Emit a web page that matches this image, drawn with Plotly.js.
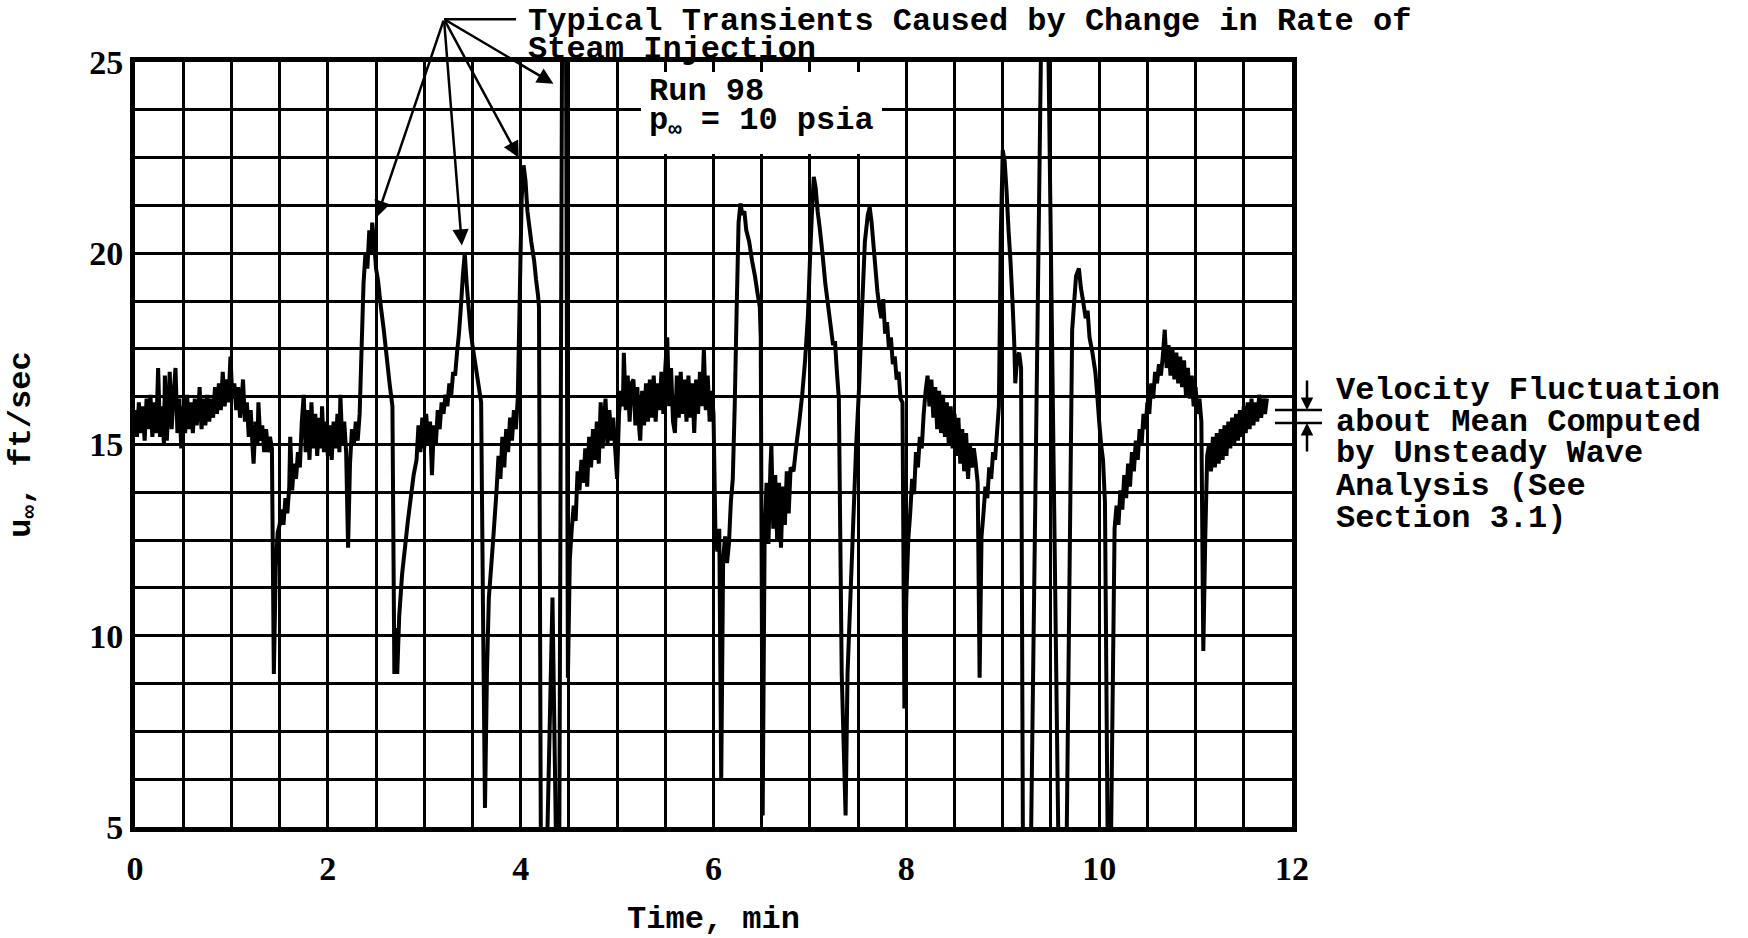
<!DOCTYPE html>
<html>
<head>
<meta charset="utf-8">
<script src="https://cdn.plot.ly/plotly-3.0.1.min.js"></script>
<style>
  html, body { margin: 0; padding: 0; background: #fff; }
  #chart { width: 1748px; height: 938px; }
</style>
</head>
<body>
<div id="chart"></div>
<script>
// Run 98, free-stream velocity u∞ (ft/sec) against time (min), p∞ = 10 psia.
// Each record is [time, velocity]; values outside 5–25 are pen excursions off the chart.
const run98_0to1_5 = [
  [0.00,15.9],[0.02,15.2],[0.04,16.1],[0.06,15.3],[0.08,16.0],[0.10,15.1],[0.12,16.2],[0.14,15.4],
  [0.16,16.3],[0.18,15.2],[0.20,16.1],[0.22,15.3],[0.24,17.0],[0.26,15.2],[0.28,16.0],[0.30,15.0],
  [0.31,16.8],[0.33,15.1],[0.35,16.2],[0.36,16.9],[0.38,15.4],[0.40,16.3],[0.42,17.0],[0.44,15.3],
  [0.46,16.2],[0.48,14.9],[0.50,16.0],[0.52,15.3],[0.54,16.3],[0.56,15.4],[0.58,16.1],[0.60,15.3],
  [0.62,16.2],[0.64,15.5],[0.66,16.0],[0.67,16.5],[0.69,15.4],[0.71,16.2],[0.73,15.5],[0.75,16.3],
  [0.77,15.6],[0.79,16.2],[0.81,15.7],[0.83,16.5],[0.85,15.8],[0.87,16.6],[0.89,15.9],[0.91,16.9],
  [0.93,16.0],[0.95,16.7],[0.97,16.1],[0.99,17.3],[1.01,16.2],[1.03,16.6],[1.05,15.9],[1.07,16.5],
  [1.09,15.7],[1.11,16.3],[1.12,16.7],[1.14,15.6],[1.16,16.1],[1.18,15.2],[1.20,15.9],[1.22,14.9],
  [1.23,14.5],[1.25,15.6],[1.27,15.0],[1.28,16.1],[1.30,15.1],[1.32,15.5],[1.34,14.8],[1.36,15.4],
  [1.38,14.8],[1.40,15.2],[1.42,14.9],[1.44,9.0],[1.46,11.8],[1.48,12.7]
];
const run98_1_5to3 = [
  [1.50,12.9],[1.52,13.3],[1.54,12.9],[1.56,13.6],[1.58,13.2],[1.60,13.9],[1.61,15.2],[1.63,13.8],
  [1.65,14.5],[1.67,14.1],[1.69,14.8],[1.71,14.4],[1.73,15.6],[1.75,16.3],[1.77,14.8],[1.79,15.9],
  [1.81,14.6],[1.83,16.1],[1.85,14.9],[1.87,15.8],[1.89,14.7],[1.91,15.7],[1.93,14.9],[1.94,16.0],
  [1.96,14.8],[1.98,15.6],[2.00,14.7],[2.02,15.5],[2.04,14.6],[2.06,15.6],[2.08,14.9],[2.10,15.8],
  [2.12,14.8],[2.13,16.3],[2.15,15.0],[2.17,15.6],[2.19,14.8],[2.21,12.3],[2.23,14.5],[2.25,15.4],
  [2.27,15.0],[2.29,15.6],[2.31,15.1],[2.33,15.8],[2.35,17.5],[2.37,19.2],[2.39,20.0],[2.41,19.6],
  [2.43,20.6],[2.45,20.0],[2.46,20.8],[2.48,20.3],[2.50,19.6],[2.52,19.3],[2.55,18.6],[2.58,18.0],
  [2.61,17.3],[2.64,16.6],[2.67,16.0],[2.69,9.0],[2.705,10.2],[2.72,9.0],[2.74,10.5],[2.77,11.6],
  [2.80,12.3],[2.83,13.0],[2.86,13.6],[2.89,14.2],[2.92,14.6],[2.94,15.5],[2.96,14.8],[2.98,15.7]
];
const run98_3to4_5 = [
  [3.00,14.9],[3.02,15.8],[3.04,15.0],[3.06,15.6],[3.08,14.2],[3.10,15.5],[3.12,15.0],[3.14,15.9],
  [3.16,15.4],[3.18,16.1],[3.20,15.8],[3.22,16.3],[3.24,16.0],[3.26,16.6],[3.28,16.3],[3.30,16.9],
  [3.32,16.8],[3.34,17.4],[3.36,17.9],[3.38,18.6],[3.40,19.4],[3.42,20.0],[3.44,19.2],[3.46,18.6],
  [3.48,18.0],[3.50,17.6],[3.53,17.1],[3.56,16.6],[3.59,16.1],[3.61,10.5],[3.63,5.5],[3.65,9.0],
  [3.67,11.0],[3.70,12.0],[3.72,12.7],[3.75,13.8],[3.77,14.7],[3.79,14.1],[3.81,15.2],[3.83,14.4],
  [3.85,15.4],[3.87,14.8],[3.89,15.7],[3.91,15.1],[3.93,15.9],[3.95,15.4],[3.97,16.2],[3.99,18.8],
  [4.01,21.4],[4.03,22.3],[4.05,21.9],[4.07,21.1],[4.09,20.7],[4.11,20.3],[4.14,19.8],[4.16,19.3],
  [4.18,18.9],[4.19,18.6],[4.21,4.0],[4.27,4.0],[4.33,11.0],[4.37,4.0],[4.40,4.0],[4.43,26.0],
  [4.47,26.0],[4.49,8.9]
];
const run98_4_5to6 = [
  [4.51,12.0],[4.53,12.8],[4.55,13.4],[4.57,13.0],[4.59,14.3],[4.61,13.8],[4.63,14.6],[4.65,14.0],
  [4.67,14.9],[4.69,13.9],[4.71,15.2],[4.73,14.4],[4.75,15.4],[4.77,14.6],[4.79,15.6],[4.81,14.5],
  [4.83,16.1],[4.85,14.9],[4.87,15.8],[4.88,16.2],[4.90,15.0],[4.92,15.9],[4.94,15.1],[4.96,15.7],
  [4.98,14.9],[5.00,14.1],[5.02,15.8],[5.04,16.4],[5.06,16.0],[5.07,17.4],[5.09,15.9],[5.11,16.8],
  [5.13,15.6],[5.15,16.6],[5.17,16.7],[5.19,15.5],[5.21,16.5],[5.23,15.4],[5.24,15.1],[5.26,16.4],
  [5.28,15.5],[5.30,16.6],[5.32,15.6],[5.34,16.7],[5.36,15.7],[5.38,16.8],[5.40,15.6],[5.42,16.6],
  [5.44,15.9],[5.46,16.9],[5.48,15.8],[5.50,17.0],[5.52,17.8],[5.54,16.0],[5.56,17.0],[5.58,15.6],
  [5.60,15.3],[5.62,16.8],[5.64,15.7],[5.66,16.9],[5.68,15.8],[5.70,16.7],[5.72,15.6],[5.74,16.8],
  [5.76,15.7],[5.78,16.6],[5.80,15.3],[5.82,16.7],[5.84,15.8],[5.86,16.9],[5.88,16.0],[5.90,17.5],
  [5.92,15.9],[5.94,16.8],[5.96,15.6],[5.98,16.4],[6.00,15.8]
];
const run98_6to7_5 = [
  [6.02,12.7],[6.04,12.2],[6.06,12.8],[6.08,6.2],[6.10,12.0],[6.12,12.6],[6.14,11.9],[6.16,12.4],
  [6.18,13.5],[6.20,14.1],[6.22,16.0],[6.24,18.5],[6.26,20.8],[6.28,21.3],[6.30,21.0],[6.32,21.1],
  [6.34,20.6],[6.37,20.3],[6.40,19.8],[6.43,19.4],[6.46,18.9],[6.48,18.6],[6.49,17.8],[6.51,5.3],
  [6.53,12.5],[6.55,14.0],[6.57,12.4],[6.59,14.4],[6.60,15.0],[6.62,12.8],[6.64,14.2],[6.66,12.5],
  [6.68,14.0],[6.70,12.3],[6.72,13.9],[6.74,12.9],[6.76,14.3],[6.78,13.2],[6.80,14.4],[6.83,14.3],
  [6.86,15.0],[6.89,15.6],[6.92,16.3],[6.95,17.2],[6.98,18.4],[7.00,19.8],[7.02,21.0],[7.04,22.0],
  [7.06,21.7],[7.08,21.1],[7.10,20.7],[7.13,20.0],[7.16,19.2],[7.19,18.6],[7.22,18.0],[7.24,17.6],
  [7.26,17.7],[7.28,16.9],[7.30,16.2],[7.33,9.0],[7.37,5.3],[7.39,9.0],[7.42,11.0],[7.45,13.0],
  [7.48,15.0]
];
const run98_7_5to9 = [
  [7.51,16.5],[7.54,18.5],[7.57,20.3],[7.60,21.0],[7.62,21.2],[7.64,20.8],[7.66,20.2],[7.68,19.6],
  [7.70,19.0],[7.72,18.6],[7.74,18.3],[7.76,18.8],[7.78,17.9],[7.80,18.2],[7.82,17.5],[7.84,17.8],
  [7.86,17.1],[7.88,17.3],[7.90,16.7],[7.92,16.9],[7.94,16.2],[7.96,16.1],[7.98,8.1],[8.00,11.0],
  [8.02,12.5],[8.04,13.2],[8.06,14.1],[8.08,13.7],[8.10,14.8],[8.12,14.4],[8.14,15.2],[8.16,14.9],
  [8.18,15.8],[8.20,16.4],[8.22,16.8],[8.24,16.0],[8.26,16.7],[8.28,15.7],[8.30,16.5],[8.32,15.4],
  [8.34,16.4],[8.36,15.3],[8.38,16.3],[8.40,15.2],[8.42,16.1],[8.44,15.0],[8.46,16.0],[8.48,14.9],
  [8.50,15.8],[8.52,14.7],[8.54,15.7],[8.56,14.5],[8.58,15.4],[8.60,14.3],[8.62,15.3],[8.64,14.1],
  [8.66,15.0],[8.68,14.4],[8.70,14.9],[8.72,14.5],[8.74,14.0],[8.76,8.9],[8.78,12.6],[8.80,13.2],
  [8.82,13.9],[8.84,13.6],[8.86,14.4],[8.88,14.1],[8.90,14.8],[8.92,14.6],[8.94,15.3],[8.96,16.0],
  [8.98,20.5],[9.00,22.7]
];
const run98_9to10_5 = [
  [9.02,22.4],[9.04,21.6],[9.06,20.6],[9.08,19.8],[9.10,18.8],[9.12,17.6],[9.13,16.6],[9.15,17.3],
  [9.17,17.4],[9.19,17.0],[9.21,4.0],[9.29,4.0],[9.40,26.0],[9.47,26.0],[9.58,4.0],[9.66,4.0],
  [9.72,18.0],[9.76,19.4],[9.79,19.6],[9.81,19.1],[9.83,18.8],[9.86,18.3],[9.88,18.5],[9.90,17.8],
  [9.93,17.4],[9.96,16.9],[9.98,16.3],[10.00,15.6],[10.02,15.0],[10.04,14.6],[10.06,13.5],[10.09,4.0],
  [10.12,4.0],[10.16,12.8],[10.18,13.4],[10.20,12.9],[10.22,13.8],[10.24,13.3],[10.26,14.2],[10.28,13.6],
  [10.30,14.5],[10.32,13.9],[10.34,14.8],[10.36,14.3],[10.38,15.1],[10.40,14.6],[10.42,15.4],[10.44,15.0],
  [10.46,15.8],[10.48,15.4],[10.50,16.1]
];
const run98_10_5to12 = [
  [10.52,15.8],[10.54,16.6],[10.56,16.2],[10.58,16.9],[10.60,16.6],[10.62,17.1],[10.64,16.8],[10.66,17.3],
  [10.68,18.0],[10.70,17.0],[10.72,17.6],[10.74,16.8],[10.76,17.5],[10.78,16.7],[10.80,17.4],[10.82,16.6],
  [10.84,17.3],[10.86,16.5],[10.88,17.2],[10.90,16.3],[10.92,17.0],[10.94,16.2],[10.96,16.8],[10.98,16.0],
  [11.00,16.5],[11.02,15.8],[11.04,16.2],[11.06,15.6],[11.08,9.6],[11.10,12.5],[11.12,14.7],[11.14,15.0],
  [11.16,14.3],[11.18,15.2],[11.20,14.4],[11.22,15.3],[11.24,14.5],[11.26,15.4],[11.28,14.6],[11.30,15.5],
  [11.32,14.7],[11.34,15.6],[11.36,14.9],[11.38,15.7],[11.40,15.0],[11.42,15.8],[11.44,15.1],[11.46,15.9],
  [11.48,15.2],[11.50,16.0],[11.52,15.3],[11.54,16.1],[11.56,15.4],[11.58,16.2],[11.60,15.5],[11.62,16.1],
  [11.64,15.6],[11.66,16.3],[11.68,15.7],[11.70,16.2],[11.72,15.8],[11.74,16.2]
];

// Axis ticks
const timeTicks = [0, 2, 4, 6, 8, 10, 12];
const velocityTicks = [5, 10, 15, 20, 25];

// Typical transients pointed out by the arrows: [time, velocity]
const transientTips = [[2.51, 20.95], [3.39, 20.2], [3.98, 22.5], [4.34, 24.43]];
const transientOrigin = [3.205, 26.12];

// Band of velocity fluctuation about the mean (ft/sec)
const fluctuationBand = [15.56, 15.9];

const record = [].concat(run98_0to1_5, run98_1_5to3, run98_3to4_5, run98_4_5to6,
                         run98_6to7_5, run98_7_5to9, run98_9to10_5, run98_10_5to12);

const trace = {
  type: 'scatter',
  mode: 'lines',
  x: record.map(p => p[0]),
  y: record.map(p => p[1]),
  line: { color: '#000', width: 4, simplify: false },
  hoverinfo: 'skip'
};

const mono = 'Liberation Mono, Courier New, monospace';
const serif = 'Liberation Serif, Times New Roman, serif';
const ink = '#000';

// Plot area in pixels: left 135, right 1292, top 62, bottom 827
const L = 135, R = 1292, T = 62, B = 827;
const px = v => (v - L) / (R - L);
const py = v => (B - v) / (B - T);
const vy = v => py(T + (25 - v) * (B - T) / 20);

const annotations = [];

transientTips.forEach(tp => {
  annotations.push({
    x: tp[0], y: tp[1], xref: 'x', yref: 'y',
    ax: transientOrigin[0], ay: transientOrigin[1], axref: 'x', ayref: 'y',
    text: '', showarrow: true, arrowhead: 2, arrowsize: 1.3, arrowwidth: 2.5,
    arrowcolor: ink, standoff: 0
  });
});

const textFont = { family: mono, size: 32, color: ink, weight: 'bold' };

function label(text, xPix, yPix, anchor) {
  annotations.push({
    text: text, xref: 'paper', yref: 'paper', x: px(xPix), y: py(yPix),
    xanchor: anchor || 'left', yanchor: 'middle', showarrow: false,
    borderpad: 0, font: textFont
  });
}

label('Typical Transients Caused by Change in Rate of', 527, 22);
label('Steam Injection', 527, 49);
label('Run 98', 648, 92);
label('p<sub>∞</sub> = 10 psia', 648, 122);

const noteLines = ['Velocity Fluctuation', 'about Mean Computed', 'by Unsteady Wave',
                   'Analysis (See', 'Section 3.1)'];
noteLines.forEach((s, i) => label(s, 1335, 390 + i * 32));

// Arrows closing on the fluctuation band
annotations.push({
  x: px(1307), y: vy(fluctuationBand[1]), xref: 'paper', yref: 'paper',
  ax: 0, ay: -31, text: '', showarrow: true, arrowhead: 2, arrowsize: 1,
  arrowwidth: 2.5, arrowcolor: ink, standoff: 0
});
annotations.push({
  x: px(1307), y: vy(fluctuationBand[0]), xref: 'paper', yref: 'paper',
  ax: 0, ay: 30, text: '', showarrow: true, arrowhead: 2, arrowsize: 1,
  arrowwidth: 2.5, arrowcolor: ink, standoff: 0
});

const shapes = [
  // blank panel behind the run label
  { type: 'rect', xref: 'paper', yref: 'paper', x0: px(641), x1: px(882), y0: py(154), y1: py(72),
    fillcolor: '#fff', line: { width: 0 }, layer: 'above' },
  // leader from the arrow origin to the transient note
  { type: 'line', xref: 'paper', yref: 'paper', x0: px(444), x1: px(516),
    y0: vy(transientOrigin[1]), y1: vy(transientOrigin[1]), line: { color: ink, width: 2.5 } },
  // fluctuation band limits
  { type: 'line', xref: 'paper', yref: 'paper', x0: px(1275), x1: px(1322),
    y0: vy(fluctuationBand[1]), y1: vy(fluctuationBand[1]), line: { color: ink, width: 2.5 } },
  { type: 'line', xref: 'paper', yref: 'paper', x0: px(1275), x1: px(1322),
    y0: vy(fluctuationBand[0]), y1: vy(fluctuationBand[0]), line: { color: ink, width: 2.5 } }
];

const gridStyle = { showgrid: true, gridcolor: ink, gridwidth: 3 };

const layout = {
  width: 1748, height: 938,
  margin: { l: L, r: 1748 - R, t: T, b: 938 - B, pad: 0 },
  paper_bgcolor: '#fff', plot_bgcolor: '#fff',
  showlegend: false,
  font: { family: mono, color: ink, size: 32 },
  xaxis: Object.assign({
    range: [0, 12], tickmode: 'array', tickvals: timeTicks, ticktext: timeTicks.map(String),
    minor: Object.assign({ dtick: 0.5, tick0: 0 }, gridStyle),
    showline: true, mirror: true, linecolor: ink, linewidth: 5,
    zeroline: false, ticks: '', ticklabelstandoff: 7,
    tickfont: { family: serif, size: 34, color: ink, weight: 'bold' },
    title: { text: 'Time, min', font: textFont, standoff: 33 },
    fixedrange: true
  }, gridStyle),
  yaxis: Object.assign({
    range: [5, 25], tickmode: 'array', tickvals: velocityTicks, ticktext: velocityTicks.map(String),
    minor: Object.assign({ dtick: 1.25, tick0: 5 }, gridStyle),
    showline: true, mirror: true, linecolor: ink, linewidth: 5,
    zeroline: false, ticks: '', ticklabelstandoff: 0,
    tickfont: { family: serif, size: 34, color: ink, weight: 'bold' },
    title: { text: 'u<sub>∞</sub>, ft/sec', font: textFont, standoff: 51 },
    fixedrange: true
  }, gridStyle),
  shapes: shapes,
  annotations: annotations
};

Plotly.newPlot('chart', [trace], layout, { staticPlot: true, displayModeBar: false });
</script>
</body>
</html>
